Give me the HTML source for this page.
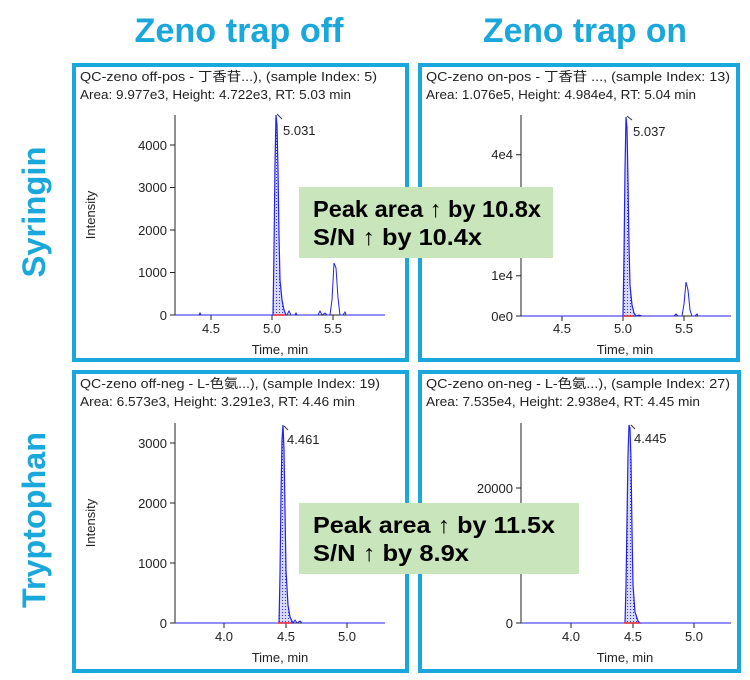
<!DOCTYPE html>
<html><head><meta charset="utf-8"><style>
html,body{margin:0;padding:0;background:#fff;}
svg{display:block;font-family:"Liberation Sans","Noto Sans CJK SC",sans-serif;}
.h{font-size:13px;fill:#222;}
.t{font-size:13px;fill:#222;}
.ax{stroke:#222;stroke-width:1;fill:none;}
.pk{fill:url(#dots);stroke:#2222ee;stroke-width:1.2;}
.ln{fill:none;stroke:#2222ee;stroke-width:1;}
.g{font-family:"Liberation Sans",sans-serif;font-weight:bold;font-size:23px;fill:#000;}
</style></head><body>
<svg width="750" height="680" viewBox="0 0 750 680">
<defs>
<pattern id="dots" width="3" height="3" patternUnits="userSpaceOnUse">
<rect width="3" height="3" fill="#d8d9ff"/><rect width="1" height="1" fill="#3333ee"/>
</pattern>
</defs>
<text x="239" y="42" text-anchor="middle" font-size="34" font-weight="bold" fill="#1aa7dc" textLength="209" lengthAdjust="spacingAndGlyphs">Zeno trap off</text>
<text x="585" y="42" text-anchor="middle" font-size="34" font-weight="bold" fill="#1aa7dc" textLength="204" lengthAdjust="spacingAndGlyphs">Zeno trap on</text>
<text transform="translate(45,212) rotate(-90)" text-anchor="middle" font-size="32" font-weight="bold" fill="#1aa7dc" textLength="131" lengthAdjust="spacingAndGlyphs">Syringin</text>
<text transform="translate(45,520) rotate(-90)" text-anchor="middle" font-size="32" font-weight="bold" fill="#1aa7dc" textLength="176" lengthAdjust="spacingAndGlyphs">Tryptophan</text>

<rect x="74" y="65" width="333" height="295" fill="none" stroke="#1aa7dc" stroke-width="4"/>
<rect x="420" y="65" width="318" height="295" fill="none" stroke="#1aa7dc" stroke-width="4"/>
<rect x="74" y="372" width="333" height="299" fill="none" stroke="#1aa7dc" stroke-width="4"/>
<rect x="420" y="372" width="319" height="299" fill="none" stroke="#1aa7dc" stroke-width="4"/>

<!-- Panel 1 -->
<text class="h" x="80" y="81" textLength="297" lengthAdjust="spacingAndGlyphs">QC-zeno off-pos - 丁香苷...), (sample Index: 5)</text>
<text class="h" x="80" y="99" textLength="271" lengthAdjust="spacingAndGlyphs">Area: 9.977e3, Height: 4.722e3, RT: 5.03 min</text>
<path class="ax" d="M175,115 V315 H385"/>
<g class="ax"><path d="M170,315h5M170,272.5h5M170,230h5M170,187.5h5M170,145h5M211,315v5M272,315v5M333,315v5"/></g>
<g class="t" text-anchor="end"><text x="167" y="320">0</text><text x="167" y="277">1000</text><text x="167" y="235">2000</text><text x="167" y="192">3000</text><text x="167" y="150">4000</text></g>
<g class="t" text-anchor="middle"><text x="211" y="333">4.5</text><text x="272" y="333">5.0</text><text x="333" y="333">5.5</text><text x="280" y="354">Time, min</text></g>
<text class="t" transform="translate(95,215) rotate(-90)" text-anchor="middle">Intensity</text>
<path class="pk" d="M273,315 L274,250 L275,165 L276,115 L277,125 L278,170 L279,235 L280,280 L282,300 L284,310 L286,315Z"/>
<path class="ln" d="M175,315 H199 l1,-2 l1,2 H287 l2,-4 l2,4 l4,0 l1,-2 l1,2 H318 l2,-4 l2,4 l3,-2 l2,2 l3,0 l2,-15 l2,-37 l2,5 l2,30 l2,17 l3,0 l2,-3 l1,3 H385"/>
<path d="M273,315 H285" stroke="#e33" stroke-width="1.5"/>
<path d="M277,114 l5,5" stroke="#333"/>
<text class="t" x="283" y="135">5.031</text>

<!-- Panel 2 -->
<text class="h" x="426" y="81" textLength="304" lengthAdjust="spacingAndGlyphs">QC-zeno on-pos - 丁香苷 ..., (sample Index: 13)</text>
<text class="h" x="426" y="99" textLength="270" lengthAdjust="spacingAndGlyphs">Area: 1.076e5, Height: 4.984e4, RT: 5.04 min</text>
<path class="ax" d="M521,115 V316 H731"/>
<g class="ax"><path d="M516,316h5M516,275.7h5M516,235.4h5M516,195.1h5M516,154.8h5M562,316v5M623,316v5M684,316v5"/></g>
<g class="t" text-anchor="end"><text x="513" y="321">0e0</text><text x="513" y="280">1e4</text><text x="513" y="159">4e4</text></g>
<g class="t" text-anchor="middle"><text x="562" y="333">4.5</text><text x="623" y="333">5.0</text><text x="684" y="333">5.5</text><text x="625" y="354">Time, min</text></g>
<path class="pk" d="M623,316 L624,255 L625,170 L626,117 L627,128 L628,180 L629,245 L630,285 L632,305 L634,313 L636,316Z"/>
<path class="ln" d="M521,316 H636 l3,-1 l3,1 H674 l2,-2 l2,2 h4 l2,-12 l2,-22 l2,8 l2,20 l2,6 l3,0 l2,-2 l1,2 H731"/>
<path d="M623,316 H634" stroke="#e33" stroke-width="1.5"/>
<path d="M627,116 l5,4" stroke="#333"/>
<text class="t" x="633" y="136">5.037</text>

<!-- Panel 3 -->
<text class="h" x="80" y="388" textLength="300" lengthAdjust="spacingAndGlyphs">QC-zeno off-neg - L-色氨...), (sample Index: 19)</text>
<text class="h" x="80" y="406" textLength="275" lengthAdjust="spacingAndGlyphs">Area: 6.573e3, Height: 3.291e3, RT: 4.46 min</text>
<path class="ax" d="M175,423 V623 H385"/>
<g class="ax"><path d="M170,623h5M170,563h5M170,503h5M170,443h5M224,623v5M286,623v5M347,623v5"/></g>
<g class="t" text-anchor="end"><text x="167" y="628">0</text><text x="167" y="568">1000</text><text x="167" y="508">2000</text><text x="167" y="448">3000</text></g>
<g class="t" text-anchor="middle"><text x="224" y="641">4.0</text><text x="286" y="641">4.5</text><text x="347" y="641">5.0</text><text x="280" y="662">Time, min</text></g>
<text class="t" transform="translate(95,523) rotate(-90)" text-anchor="middle">Intensity</text>
<path class="pk" d="M279,623 L280,575 L281,495 L282,440 L283,425 L284,450 L285,510 L286,570 L288,605 L290,617 L293,623Z"/>
<path class="ln" d="M175,623 H293 l2,-3 l2,3 l3,-2 l2,2 H385"/>
<path d="M278,623 H292" stroke="#e33" stroke-width="1.5"/>
<path d="M284,426 l4,4" stroke="#333"/>
<text class="t" x="287" y="444">4.461</text>

<!-- Panel 4 -->
<text class="h" x="426" y="388" textLength="304" lengthAdjust="spacingAndGlyphs">QC-zeno on-neg - L-色氨...), (sample Index: 27)</text>
<text class="h" x="426" y="406" textLength="274" lengthAdjust="spacingAndGlyphs">Area: 7.535e4, Height: 2.938e4, RT: 4.45 min</text>
<path class="ax" d="M521,423 V623 H731"/>
<g class="ax"><path d="M516,623h5M516,488h5M571,623v5M633,623v5M694,623v5"/></g>
<g class="t" text-anchor="end"><text x="513" y="628">0</text><text x="513" y="493">20000</text></g>
<g class="t" text-anchor="middle"><text x="571" y="641">4.0</text><text x="633" y="641">4.5</text><text x="694" y="641">5.0</text><text x="625" y="662">Time, min</text></g>
<path class="pk" d="M625,623 L626,585 L627,520 L628,455 L629,425 L630,428 L631,460 L632,530 L633,585 L635,612 L638,621 L640,623Z"/>
<path class="ln" d="M521,623 H731"/>
<path d="M624,623 H640" stroke="#e33" stroke-width="1.5"/>
<path d="M631,425 l4,4" stroke="#333"/>
<text class="t" x="634" y="443">4.445</text>

<!-- green boxes -->
<rect x="299" y="187" width="254" height="71" fill="#c9e5bb"/>
<text class="g" x="313" y="217" textLength="228" lengthAdjust="spacingAndGlyphs">Peak area ↑ by 10.8x</text>
<text class="g" x="313" y="245" textLength="169" lengthAdjust="spacingAndGlyphs">S/N ↑ by 10.4x</text>
<rect x="299" y="503" width="280" height="71" fill="#c9e5bb"/>
<text class="g" x="313" y="533" textLength="242" lengthAdjust="spacingAndGlyphs">Peak area ↑ by 11.5x</text>
<text class="g" x="313" y="561" textLength="156" lengthAdjust="spacingAndGlyphs">S/N ↑ by 8.9x</text>
</svg>
</body></html>
